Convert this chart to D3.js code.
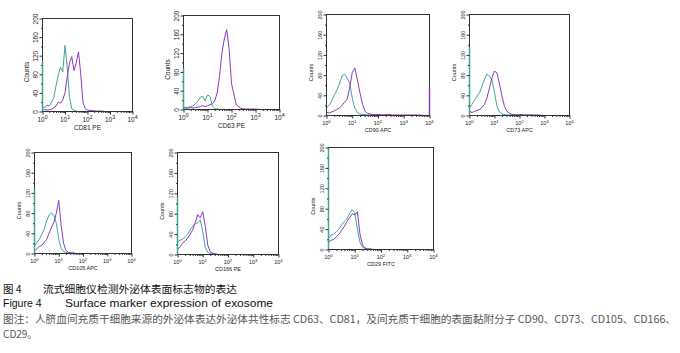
<!DOCTYPE html>
<html><head><meta charset="utf-8">
<script src="https://cdn.jsdelivr.net/npm/d3@7"></script>
<style>body{margin:0;background:#fff}svg{display:block}</style>
</head><body>
<script>
// ---------- data ----------
const markers = ["CD81 PE","CD63 PE","CD90 APC","CD73 APC","CD105 APC","CD166 PE","CD29 FITC"];
const yTicks = [0,40,80,120,160,200];
const yMinorTicks = [20,60,100,140,180];
const xTickExps = [0,1,2,3,4];
// fluorescence bins, in decades (log10 of intensity)
const logBins = [0,0.1,0.2,0.3,0.4,0.5,0.6,0.7,0.8,0.9,1.0,1.1,1.2,1.3,1.4,1.5,1.6,1.7,1.8,1.9,2.0,2.2,2.4,2.6,2.8,3.0,3.2,3.4,3.6,3.8,4.0];
// isotype control (teal) counts
const tealCD81  = [10,8,14,12,20,30,55,78,95,85,142,95,30,6,2,1,0,0,0,0,0,0,0,0,0,0,0,0,0,0,0];
const tealCD63  = [5,4,5,6,8,12,18,26,28,18,31,28,8,2,1,0,0,0,0,0,0,0,0,0,0,0,0,0,0,0,0];
const tealCD90  = [15,20,28,40,50,62,78,82,74,65,35,14,6,3,2,2,1,1,1,1,1,1,1,0,0,0,0,0,0,0,0];
const tealCD73  = [15,22,30,38,45,58,72,82,78,70,45,18,7,3,2,1,1,1,1,1,1,1,1,0,0,0,0,0,0,0,0];
const tealCD105 = [15,22,28,38,48,65,76,80,76,60,28,10,4,2,1,1,1,0,0,0,0,0,0,0,0,0,0,0,0,0,0];
const tealCD166 = [25,28,30,35,40,48,55,60,62,68,45,14,4,2,1,1,0,0,0,0,0,0,0,0,0,0,0,0,0,0,0];
const tealCD29  = [22,28,30,35,40,48,55,60,70,78,72,40,14,4,2,1,1,0,0,0,0,0,0,0,0,0,0,0,0,0,0];
// stained sample (purple) counts
const purpleCD81  = [3,4,3,4,5,8,12,20,18,25,40,75,105,118,88,105,128,80,20,6,3,2,1,1,0,0,0,0,0,0,0];
const purpleCD63  = [4,3,3,4,3,4,5,6,8,6,8,10,12,18,35,70,120,150,170,130,55,10,2,1,1,1,0,0,0,0,0];
const purpleCD90  = [6,5,7,9,12,15,20,26,32,55,85,94,70,45,22,8,4,3,2,2,2,1,2,1,1,1,1,1,1,0,0];
const purpleCD73  = [8,6,8,10,12,16,22,35,55,75,88,84,62,38,18,8,4,2,2,1,2,1,1,1,1,0,0,0,0,0,0];
const purpleCD105 = [5,10,14,16,22,28,40,52,62,80,105,55,20,6,2,1,1,0,0,0,0,0,0,0,0,0,0,0,0,0,0];
const purpleCD166 = [10,15,22,26,32,40,48,62,78,72,84,55,18,5,2,1,0,0,0,0,0,0,0,0,0,0,0,0,0,0,0];
const purpleCD29  = [14,18,20,25,30,38,45,55,62,70,68,74,30,8,3,1,1,0,0,0,0,0,0,0,0,0,0,0,0,0,0];
// events piled at the scale ends
const leftEdgeTeal = [108,88,0,135,128,113,200];
const rightEdgePurple = [0,0,55,0,0,0,0];

const tealSeries = [tealCD81,tealCD63,tealCD90,tealCD73,tealCD105,tealCD166,tealCD29];
const purpleSeries = [purpleCD81,purpleCD63,purpleCD90,purpleCD73,purpleCD105,purpleCD166,purpleCD29];

// ---------- layout ----------
const boxes = [
  {x:42, y:18, w:90, h:93, fs:6.5},
  {x:183,y:15, w:96, h:94, fs:6.5},
  {x:326,y:14, w:103,h:101,fs:5.5},
  {x:469,y:14, w:100,h:101,fs:5.5},
  {x:34, y:152,w:97, h:101,fs:5.5},
  {x:177,y:152,w:101,h:102,fs:5.5},
  {x:328,y:147,w:105,h:102,fs:5.5}
];
const TEAL = "#3fa597", PURPLE = "#8a38c2", FONT = "'Liberation Sans', Arial, sans-serif";

const svg = d3.select("body").append("svg").attr("width",680).attr("height",353);

boxes.forEach((b,i)=>{
  const g = svg.append("g").attr("transform",`translate(${b.x+0.5},${b.y+0.5})`);
  const x = d3.scaleLog().domain([1,1e4]).range([0,b.w]);
  const y = d3.scaleLinear().domain([0,200]).range([b.h,0]);
  const clipId = "clip"+i;
  g.append("clipPath").attr("id",clipId).append("rect").attr("x",0).attr("y",-1).attr("width",b.w).attr("height",b.h+1);

  const line = d3.line().x(d=>x(Math.pow(10,d[0]))).y(d=>y(d[1]));
  const tealPts = logBins.map((e,k)=>[e,tealSeries[i][k]]);
  const purplePts = logBins.map((e,k)=>[e,purpleSeries[i][k]]);
  const plot = g.append("g").attr("clip-path",`url(#${clipId})`);
  plot.append("path").datum(tealPts).attr("d",line).attr("fill","none").attr("stroke",TEAL).attr("stroke-width",1);
  plot.append("path").datum(purplePts).attr("d",line).attr("fill","none").attr("stroke",PURPLE).attr("stroke-width",1);

  // frame
  g.append("rect").attr("width",b.w).attr("height",b.h).attr("fill","none").attr("stroke","#333").attr("stroke-width",1);
  if (leftEdgeTeal[i]>0)
    g.append("line").attr("x1",0).attr("x2",0).attr("y1",y(0)).attr("y2",y(leftEdgeTeal[i])).attr("stroke",TEAL).attr("stroke-width",1.5);
  if (rightEdgePurple[i]>0)
    g.append("line").attr("x1",b.w).attr("x2",b.w).attr("y1",y(0)).attr("y2",y(rightEdgePurple[i])).attr("stroke",PURPLE).attr("stroke-width",1.5);

  // y axis
  const ya = g.append("g").call(d3.axisLeft(y).tickValues(yTicks).tickSize(3).tickFormat(d=>d));
  ya.select(".domain").remove();
  ya.selectAll("line").attr("stroke","#333");
  ya.selectAll("text").attr("x",0).attr("dy",0).attr("text-anchor","middle")
    .attr("transform","translate(-5,0) rotate(-90)").attr("font-size",b.fs).attr("font-family",FONT).attr("fill","#222");
  const yam = g.append("g").call(d3.axisLeft(y).tickValues(yMinorTicks).tickSize(1.5).tickFormat(""));
  yam.select(".domain").remove();
  yam.selectAll("line").attr("stroke","#333");
  g.append("text").attr("transform",`translate(${-14},${y(85)}) rotate(-90)`).attr("text-anchor","middle")
    .attr("font-size",b.fs).attr("font-family",FONT).attr("fill","#222").text("Counts");

  // x axis
  const xa = g.append("g").attr("transform",`translate(0,${b.h})`)
    .call(d3.axisBottom(x).tickValues(xTickExps.map(e=>Math.pow(10,e))).tickSize(3).tickFormat(""));
  xa.select(".domain").remove();
  xa.selectAll("line").attr("stroke","#333");
  const minor = [];
  xTickExps.slice(0,-1).forEach(e=>{ [2,3,4,5,6,7,8,9].forEach(m=>minor.push(m*Math.pow(10,e))); });
  const xam = g.append("g").attr("transform",`translate(0,${b.h})`)
    .call(d3.axisBottom(x).tickValues(minor).tickSize(1.5).tickFormat(""));
  xam.select(".domain").remove();
  xam.selectAll("line").attr("stroke","#333");
  xTickExps.forEach(e=>{
    const t = g.append("text").attr("x",x(Math.pow(10,e))).attr("y",b.h+b.fs+4)
      .attr("text-anchor","middle").attr("font-size",b.fs).attr("font-family",FONT).attr("fill","#222");
    t.append("tspan").text("10");
    t.append("tspan").attr("dy",-b.fs*0.45).attr("font-size",b.fs*0.8).text(e);
  });
  g.append("text").attr("x",b.w/2).attr("y",b.h+b.fs*2+5).attr("text-anchor","middle")
    .attr("font-size",b.fs).attr("font-family",FONT).attr("fill","#222").text(markers[i]);
});

// ---------- caption ----------
const CJK = "'Noto Sans CJK SC', 'Noto Sans', sans-serif";
svg.append("text").attr("x",3).attr("y",293).attr("font-size",10.5).attr("font-family",CJK).attr("fill","#111").text("图 4");
svg.append("text").attr("x",43).attr("y",293).attr("font-size",10.5).attr("font-family",CJK).attr("fill","#111")
  .attr("textLength",194).attr("lengthAdjust","spacingAndGlyphs").text("流式细胞仪检测外泌体表面标志物的表达");
svg.append("text").attr("x",3).attr("y",307).attr("font-size",10.5).attr("font-family",FONT).attr("fill","#111").text("Figure 4");
svg.append("text").attr("x",65).attr("y",307).attr("font-size",10.5).attr("font-family",FONT).attr("fill","#111")
  .attr("textLength",208).attr("lengthAdjust","spacingAndGlyphs").text("Surface marker expression of exosome");
svg.append("text").attr("x",3).attr("y",323).attr("font-size",10).attr("font-family",CJK).attr("fill","#555")
  .attr("textLength",673).attr("lengthAdjust","spacingAndGlyphs")
  .text("图注：人脐血间充质干细胞来源的外泌体表达外泌体共性标志 CD63、CD81，及间充质干细胞的表面黏附分子 CD90、CD73、CD105、CD166、");
svg.append("text").attr("x",3).attr("y",338).attr("font-size",10).attr("font-family",CJK).attr("fill","#555").text("CD29。");
</script>
</body></html>
